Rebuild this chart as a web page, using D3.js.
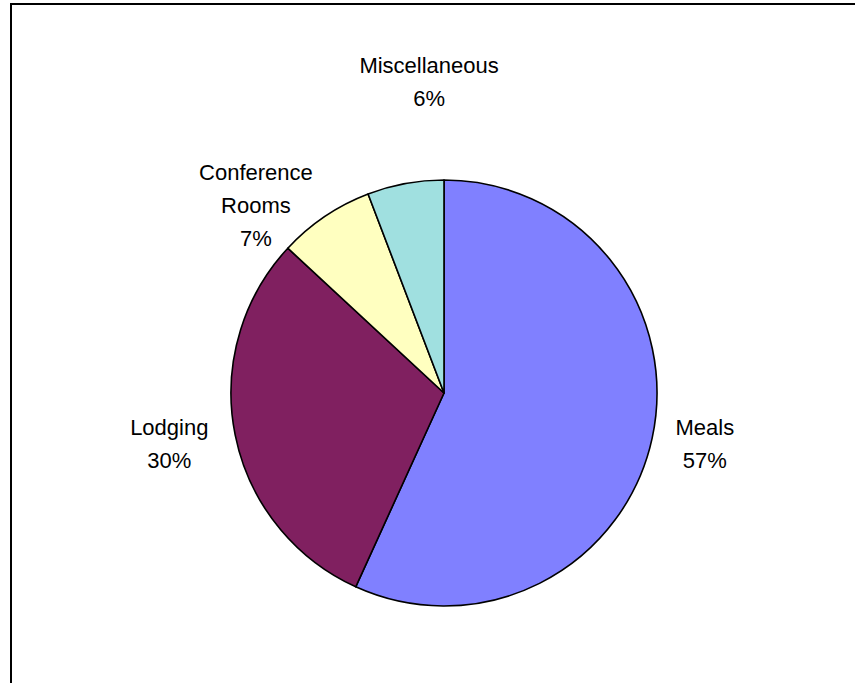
<!DOCTYPE html>
<html>
<head>
<meta charset="utf-8">
<script src="https://cdn.jsdelivr.net/npm/d3@7/dist/d3.min.js"></script>
<style>
  html, body { margin: 0; padding: 0; background: #fff; }
  svg { display: block; }
</style>
</head>
<body>
<svg id="chart" width="855" height="683"></svg>
<script>
// ---- data ----
const categories = ["Meals", "Lodging", "Conference Rooms", "Miscellaneous"];
const values = [56.8, 30.1, 7.3, 5.8];
const percentLabels = ["57%", "30%", "7%", "6%"];
const labelLines = [["Meals"], ["Lodging"], ["Conference", "Rooms"], ["Miscellaneous"]];
const colors = ["#8080FF", "#802060", "#FFFFC0", "#A0E0E0"];

// ---- layout options ----
const width = 855, height = 683;
const cx = 444, cy = 393, radius = 213;
const labelRadius = 270;
const labelNudge = [[-3, -7], [-10, -3], [-37, 36], [34, -46]]; // best-fit adjustments
const fontSize = 22, lineHeight = 33, capHeight = 16;

const svg = d3.select("#chart");

// chart area border (extends beyond the window on right/bottom)
svg.append("rect")
  .attr("x", 11).attr("y", 4)
  .attr("width", 1000).attr("height", 1000)
  .attr("fill", "#fff")
  .attr("stroke", "#000")
  .attr("stroke-width", 2);

const data = categories.map((c, i) => ({ name: c, value: values[i], pct: percentLabels[i], lines: labelLines[i], color: colors[i] }));

const pie = d3.pie().value(d => d.value).sort(null);
const arcs = pie(data);
const arc = d3.arc().innerRadius(0).outerRadius(radius);

const g = svg.append("g").attr("transform", `translate(${cx},${cy})`);

g.selectAll("path.slice")
  .data(arcs)
  .enter().append("path")
  .attr("class", "slice")
  .attr("d", arc)
  .attr("fill", d => d.data.color)
  .attr("stroke", "#000")
  .attr("stroke-width", 1.6)
  .attr("stroke-linejoin", "round");

// labels
const labelG = g.append("g")
  .attr("font-family", "'Liberation Sans', Arial, sans-serif")
  .attr("font-size", fontSize)
  .attr("fill", "#000")
  .attr("text-anchor", "middle");

arcs.forEach((a, i) => {
  const mid = (a.startAngle + a.endAngle) / 2;
  const x = Math.sin(mid) * labelRadius + labelNudge[i][0];
  const y = -Math.cos(mid) * labelRadius + labelNudge[i][1];
  const lines = a.data.lines.concat([a.data.pct]);
  const n = lines.length;
  // vertical center of block: from cap top of first line to baseline of last
  const blockH = capHeight + (n - 1) * lineHeight;
  const firstBaseline = y - blockH / 2 + capHeight;
  const t = labelG.append("text").attr("x", x).attr("y", firstBaseline);
  lines.forEach((ln, j) => {
    t.append("tspan").attr("x", x).attr("y", firstBaseline + j * lineHeight).text(ln);
  });
});
</script>
</body>
</html>
